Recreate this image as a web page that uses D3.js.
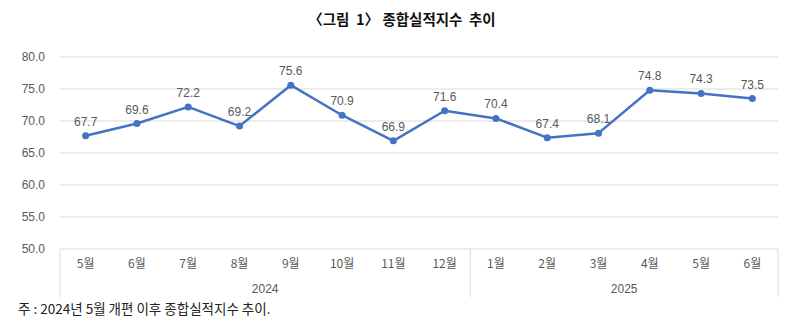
<!DOCTYPE html>
<html><head><meta charset="utf-8">
<script src="https://cdn.jsdelivr.net/npm/d3@7"></script>
<style>
body{margin:0;background:#fff;}
text{font-family:"Liberation Sans","Noto Sans CJK KR",sans-serif;}
</style></head>
<body><svg id="c" width="800" height="323"></svg>
<script>
const months = ["5월","6월","7월","8월","9월","10월","11월","12월","1월","2월","3월","4월","5월","6월"];
const years = [{label:"2024", count:8},{label:"2025", count:6}];
const values = [67.7,69.6,72.2,69.2,75.6,70.9,66.9,71.6,70.4,67.4,68.1,74.8,74.3,73.5];
const yTicks = [50,55,60,65,70,75,80];
const title = "〈그림  1〉 종합실적지수  추이";
const note = "주 : 2024년 5월 개편 이후 종합실적지수 추이.";

const svg = d3.select("#c");
const L=60, R=778, T=57, B=249;
const idx = d3.range(months.length);
const x = d3.scaleBand().domain(idx).range([L,R]);
const y = d3.scaleLinear().domain([50,80]).range([B,T]);

svg.append("text").attr("x",402).attr("y",25).attr("text-anchor","middle")
  .attr("font-size",14.5).attr("font-weight","bold").attr("fill","#111")
  .style("white-space","pre")
  .style("font-family","'Noto Sans CJK KR',sans-serif").text(title);

// gridlines
svg.append("g").selectAll("line").data(yTicks.filter(t=>t>50)).join("line")
  .attr("x1",L).attr("x2",R).attr("y1",d=>y(d)).attr("y2",d=>y(d))
  .attr("stroke","#d9d9d9").attr("stroke-width",1);

// y axis labels
const ya = svg.append("g").attr("transform",`translate(${L},0)`)
  .call(d3.axisLeft(y).tickValues(yTicks).tickFormat(d3.format(".1f")).tickSize(0).tickPadding(15));
ya.select(".domain").remove();
ya.selectAll("text").attr("font-size",12).attr("fill","#595959").style("font-family","'Liberation Sans',sans-serif");

// x axis line & category labels
svg.append("line").attr("x1",L).attr("x2",R).attr("y1",B).attr("y2",B).attr("stroke","#d9d9d9");
const xa = svg.append("g").attr("transform",`translate(0,${B})`)
  .call(d3.axisBottom(x).tickFormat(i=>months[i]).tickSize(0).tickPadding(10));
xa.select(".domain").remove();
xa.selectAll("text").attr("font-size",12).attr("fill","#595959").style("font-family","'Noto Sans CJK KR',sans-serif");

// year grouping
let start=0;
const bounds=[L];
years.forEach(g=>{
  const x0 = x(start), x1 = x(start+g.count-1)+x.bandwidth();
  svg.append("text").attr("x",(x0+x1)/2).attr("y",B+44).attr("text-anchor","middle")
    .attr("font-size",12).attr("fill","#595959").text(g.label);
  bounds.push(x1);
  start+=g.count;
});
svg.append("g").selectAll("line").data(bounds).join("line")
  .attr("x1",d=>d).attr("x2",d=>d).attr("y1",B).attr("y2",B+48)
  .attr("stroke","#d9d9d9");

// line
const cx = i=>x(i)+x.bandwidth()/2;
svg.append("path").datum(values)
  .attr("d",d3.line().x((d,i)=>cx(i)).y(d=>y(d)))
  .attr("fill","none").attr("stroke","#4472C4").attr("stroke-width",2.5).attr("stroke-linejoin","round");
svg.append("g").selectAll("circle").data(values).join("circle")
  .attr("cx",(d,i)=>cx(i)).attr("cy",d=>y(d)).attr("r",3.5).attr("fill","#4472C4");
svg.append("g").selectAll("text").data(values).join("text")
  .attr("x",(d,i)=>cx(i)).attr("y",d=>y(d)-10).attr("text-anchor","middle")
  .attr("font-size",12).attr("fill","#595959").text(d=>d.toFixed(1));

svg.append("text").attr("x",18).attr("y",314).attr("font-size",13.5).attr("fill","#222")
  .style("font-family","'Noto Sans CJK KR',sans-serif").text(note);
</script></body></html>
